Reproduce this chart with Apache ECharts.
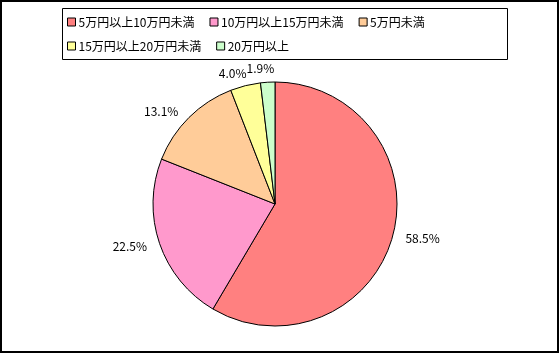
<style>body { margin: 0; }</style>
<div id="chart" style="width: 560px; height: 354px;"></div>

<script src="https://cdn.jsdelivr.net/npm/echarts@6.0.0/dist/echarts.min.js"></script>
<script>
  const chart = echarts.init(document.getElementById('chart'));

  // 金額区分と構成比（%）
  const categories = ['5万円以上10万円未満', '10万円以上15万円未満', '5万円未満', '15万円以上20万円未満', '20万円以上'];
  const shares = [58.5, 22.5, 13.1, 4.0, 1.9];
  const colors = ['#FF8080', '#FF99CC', '#FFCC99', '#FFFF99', '#CCFFCC'];

  const font = '"Noto Sans CJK JP", sans-serif';

  const legendBase = {
    orient: 'horizontal',
    icon: 'rect',
    itemWidth: 8,
    itemHeight: 8,
    itemGap: 15,
    padding: 0,
    selectedMode: false,
    textStyle: { fontSize: 12, color: '#000', fontFamily: font, padding: [0, 0, 0, -2] },
    itemStyle: { borderColor: '#000', borderWidth: 1 }
  };

  // 小さい扇形のラベルを少しずらす（Excel 風の配置）
  const labelShift = { 3: { dx: 8, dy: -4 }, 4: { dx: 12, dy: -6 } };

  const option = {
    animation: false,
    color: colors,
    graphic: [
      {
        type: 'rect',
        shape: { x: 1, y: 1, width: 557, height: 351 },
        style: { fill: 'none', stroke: '#000', lineWidth: 2 }
      },
      {
        type: 'rect',
        shape: { x: 62.5, y: 8.5, width: 445, height: 51 },
        style: { fill: 'none', stroke: '#000', lineWidth: 1 }
      }
    ],
    legend: [
      Object.assign({}, legendBase, { left: 67, top: 16, data: categories.slice(0, 3) }),
      Object.assign({}, legendBase, { left: 67, top: 40, data: categories.slice(3) })
    ],
    series: [
      {
        type: 'pie',
        center: [275, 204],
        radius: 122,
        startAngle: 90,
        clockwise: true,
        avoidLabelOverlap: false,
        itemStyle: { borderColor: '#000', borderWidth: 1 },
        emphasis: { disabled: true },
        label: {
          show: true,
          position: 'outside',
          fontSize: 12,
          color: '#000',
          fontFamily: font,
          formatter: p => p.value.toFixed(1) + '%'
        },
        labelLine: { show: false, length: 8, length2: 0 },
        labelLayout: p => Object.assign({ hideOverlap: false }, labelShift[p.dataIndex] || {}),
        data: categories.map((name, i) => ({ name: name, value: shares[i] }))
      }
    ]
  };

  chart.setOption(option);
</script>
